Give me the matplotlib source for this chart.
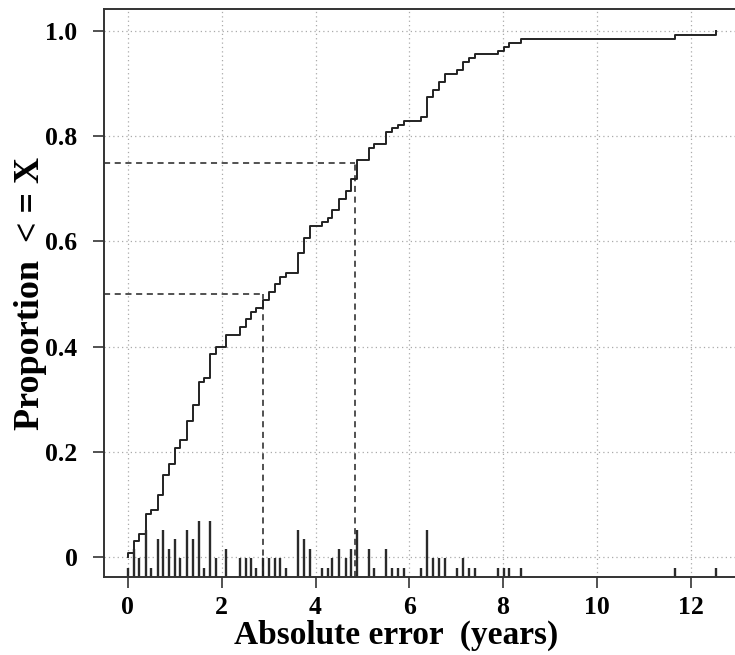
import matplotlib
matplotlib.use('Agg')
import matplotlib.pyplot as plt
import numpy as np

# binned absolute errors (years) and how many cases fall in each bin
err_bins = [0.00, 0.12, 0.24, 0.38, 0.49, 0.64, 0.74, 0.87, 1.00, 1.12,
            1.27, 1.38, 1.51, 1.63, 1.76, 1.88, 2.10, 2.39, 2.51, 2.63,
            2.74, 2.88, 3.00, 3.14, 3.24, 3.37, 3.62, 3.76, 3.88, 4.13,
            4.26, 4.36, 4.50, 4.64, 4.75, 4.89, 5.14, 5.24, 5.50, 5.63,
            5.76, 5.88, 6.25, 6.37, 6.50, 6.63, 6.76, 7.02, 7.14, 7.27,
            7.40, 7.90, 8.02, 8.13, 8.39, 11.67, 12.53]
err_counts = [1, 3, 2, 5, 1, 4, 5, 3, 4, 2,
              5, 4, 6, 1, 6, 2, 3, 2, 2, 2,
              1, 2, 2, 2, 2, 1, 5, 4, 3, 1,
              1, 2, 3, 2, 3, 5, 3, 1, 3, 1,
              1, 1, 1, 5, 2, 2, 2, 1, 2, 1,
              1, 1, 1, 1, 1, 1, 1]

# reference quantiles marked with dashed lines
q_probs = [0.5, 0.75]
q_vals = [2.88, 4.84]

xticks = [0, 2, 4, 6, 8, 10, 12]
yticks = [0, 0.2, 0.4, 0.6, 0.8, 1.0]
ytick_labels = ['0', '0.2', '0.4', '0.6', '0.8', '1.0']

plt.rcParams['font.family'] = ['Liberation Serif', 'DejaVu Serif']
plt.rcParams['font.weight'] = 'bold'

W, H = 735, 655
fig = plt.figure(figsize=(W / 100, H / 100), dpi=100)
ax = fig.add_axes([104 / W, 1 - 577 / H, (739 - 104) / W, (577 - 9) / H])

xlo, xhi = -0.51, 13.03
ylo, yhi = -0.038, 1.042
ax.set_xlim(xlo, xhi)
ax.set_ylim(ylo, yhi)

ax.grid(True, color='#aaaaaa', linestyle=(0, (1, 2.5)), linewidth=0.9)
ax.set_axisbelow(True)

# empirical cdf
vals = np.array(err_bins)
cnts = np.array(err_counts)
cum = np.cumsum(cnts) / cnts.sum()
xs = np.concatenate([[vals[0]], vals])
ys = np.concatenate([[0.0], cum])
ax.step(xs, ys, where='post', color='#222222', linewidth=1.4)

# spike histogram along the bottom
unit = 0.0179
ax.vlines(vals, ylo, ylo + cnts * unit, color='#2a2a2a', linewidth=1.7)

# quantile guides
for p, q in zip(q_probs, q_vals):
    ax.plot([xlo, q], [p, p], color='#222222', linestyle=(0, (4, 3)), linewidth=1.1)
    ax.plot([q, q], [ylo, p], color='#222222', linestyle=(0, (4, 3)), linewidth=1.1)

for s in ax.spines.values():
    s.set_color('#333333')
    s.set_linewidth(1.4)

ax.set_xticks(xticks)
ax.set_yticks(yticks)
ax.set_yticklabels(ytick_labels)
ax.tick_params(axis='both', direction='out', length=8, width=1.2, color='#333333',
               labelsize=18.5)
ax.tick_params(axis='x', pad=6)
ax.tick_params(axis='y', pad=11)
for lab in ax.get_xticklabels() + ax.get_yticklabels():
    lab.set_fontweight('bold')

ax.set_xlabel('Absolute error  (years)', fontsize=24, fontweight='bold', labelpad=0)
ax.xaxis.set_label_coords(0.46, -0.075)
ax.set_ylabel('Proportion  < = X', fontsize=26, fontweight='bold')
ax.yaxis.set_label_coords(-0.089, 0.5)

fig.savefig('out.png', dpi=100)
